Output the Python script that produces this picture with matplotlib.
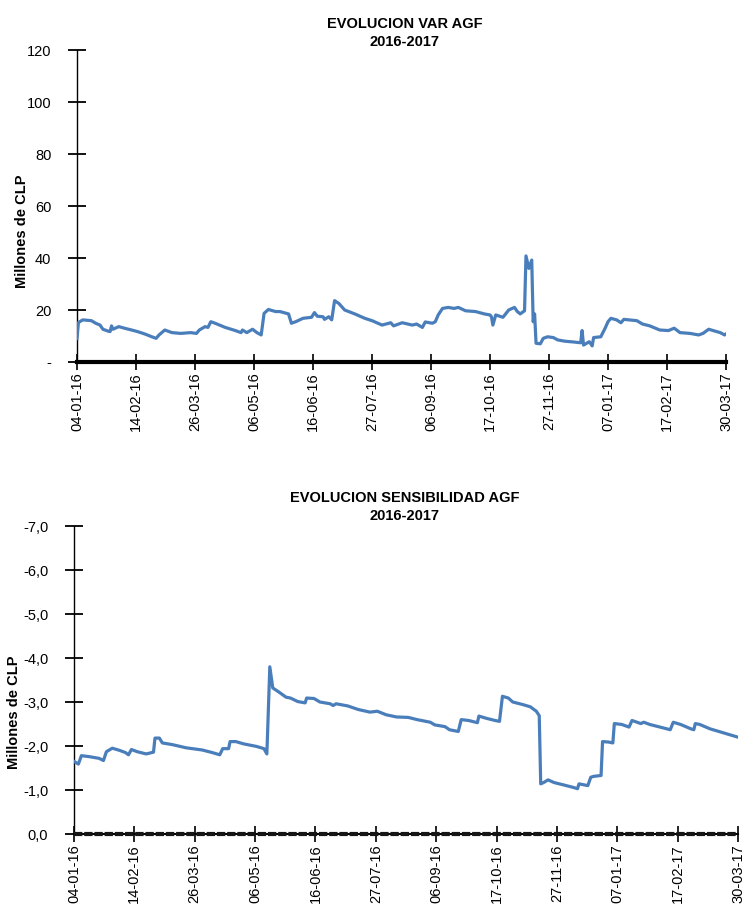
import matplotlib
matplotlib.use("Agg")
import matplotlib.pyplot as plt
import pandas as pd

# ---------------- data ----------------
etiquetas_x = ["04-01-16", "14-02-16", "26-03-16", "06-05-16", "16-06-16", "27-07-16",
               "06-09-16", "17-10-16", "27-11-16", "07-01-17", "17-02-17", "30-03-17"]

var_fechas = [
    "2016-01-04", "2016-01-05", "2016-01-08", "2016-01-14", "2016-01-17", "2016-01-20",
    "2016-01-22", "2016-01-26", "2016-01-27", "2016-01-28", "2016-01-29", "2016-02-02",
    "2016-02-06", "2016-02-11", "2016-02-15", "2016-02-20", "2016-02-25", "2016-02-28",
    "2016-03-01", "2016-03-05", "2016-03-10", "2016-03-16", "2016-03-23", "2016-03-27",
    "2016-03-29", "2016-04-02", "2016-04-04", "2016-04-06", "2016-04-09", "2016-04-16",
    "2016-04-23", "2016-04-27", "2016-04-28", "2016-05-01", "2016-05-05", "2016-05-08",
    "2016-05-11", "2016-05-13", "2016-05-16", "2016-05-21", "2016-05-24", "2016-05-30",
    "2016-06-01", "2016-06-04", "2016-06-09", "2016-06-15", "2016-06-17", "2016-06-19",
    "2016-06-23", "2016-06-24", "2016-06-27", "2016-06-29", "2016-07-01", "2016-07-04",
    "2016-07-08", "2016-07-15", "2016-07-22", "2016-07-27", "2016-08-03", "2016-08-09",
    "2016-08-11", "2016-08-17", "2016-08-24", "2016-08-27", "2016-08-31", "2016-09-02",
    "2016-09-07", "2016-09-09", "2016-09-11", "2016-09-14", "2016-09-18", "2016-09-22",
    "2016-09-25", "2016-09-30", "2016-10-07", "2016-10-13", "2016-10-17", "2016-10-18",
    "2016-10-19", "2016-10-21", "2016-10-26", "2016-10-30", "2016-11-03", "2016-11-05",
    "2016-11-07", "2016-11-10", "2016-11-11", "2016-11-13", "2016-11-15", "2016-11-16",
    "2016-11-17", "2016-11-18", "2016-11-21", "2016-11-23", "2016-11-26", "2016-11-30",
    "2016-12-03", "2016-12-08", "2016-12-14", "2016-12-19", "2016-12-20", "2016-12-21",
    "2016-12-25", "2016-12-27", "2016-12-28", "2017-01-02", "2017-01-05", "2017-01-07",
    "2017-01-09", "2017-01-13", "2017-01-16", "2017-01-18", "2017-01-27", "2017-01-31",
    "2017-02-05", "2017-02-12", "2017-02-18", "2017-02-22", "2017-02-26", "2017-03-05",
    "2017-03-11", "2017-03-14", "2017-03-18", "2017-03-21", "2017-03-26", "2017-03-29",
    "2017-03-30",
]
var_valores = [
    9.0, 15.2, 16.2, 15.9, 14.9, 14.2,
    12.6, 11.8, 11.7, 13.9, 12.6, 13.6,
    13.0, 12.3, 11.7, 10.8, 9.7, 9.1,
    10.4, 12.3, 11.3, 11.0, 11.3, 11.0,
    12.3, 13.6, 13.3, 15.5, 14.9, 13.3,
    12.1, 11.3, 12.3, 11.3, 12.6, 11.3,
    10.4, 18.7, 20.2, 19.4, 19.4, 18.5,
    14.9, 15.5, 16.8, 17.2, 19.0, 17.6,
    17.4, 16.4, 17.4, 16.2, 23.6, 22.5,
    20.0, 18.5, 16.8, 15.9, 14.2, 15.1,
    13.9, 15.1, 14.2, 14.6, 13.3, 15.4,
    14.9, 15.5, 18.1, 20.6, 21.0, 20.6,
    21.0, 19.7, 19.4, 18.5, 18.1, 17.4,
    14.2, 18.1, 17.2, 20.0, 21.0, 19.4,
    18.5, 19.7, 40.8, 36.0, 39.2, 15.5,
    18.5, 7.2, 7.0, 9.1, 9.7, 9.4,
    8.5, 8.0, 7.7, 7.4, 12.1, 6.5,
    7.8, 6.2, 9.4, 9.7, 13.0, 15.5,
    16.8, 16.2, 15.1, 16.4, 15.9, 14.6,
    13.9, 12.3, 12.1, 13.0, 11.3, 11.0,
    10.4, 11.0, 12.6, 12.1, 11.3, 10.4,
    10.8,
]

sens_fechas = [
    "2016-01-04", "2016-01-05", "2016-01-07", "2016-01-09", "2016-01-14", "2016-01-21",
    "2016-01-24", "2016-01-26", "2016-01-30", "2016-02-04", "2016-02-08", "2016-02-10",
    "2016-02-12", "2016-02-16", "2016-02-22", "2016-02-27", "2016-02-28", "2016-03-02",
    "2016-03-04", "2016-03-11", "2016-03-20", "2016-03-31", "2016-04-07", "2016-04-12",
    "2016-04-14", "2016-04-18", "2016-04-19", "2016-04-23", "2016-04-28", "2016-05-07",
    "2016-05-12", "2016-05-14", "2016-05-16", "2016-05-18", "2016-05-22", "2016-05-27",
    "2016-05-30", "2016-06-04", "2016-06-09", "2016-06-10", "2016-06-15", "2016-06-19",
    "2016-06-26", "2016-06-28", "2016-06-30", "2016-07-08", "2016-07-15", "2016-07-23",
    "2016-07-28", "2016-08-03", "2016-08-10", "2016-08-18", "2016-08-24", "2016-09-02",
    "2016-09-05", "2016-09-12", "2016-09-15", "2016-09-21", "2016-09-23", "2016-09-28",
    "2016-10-04", "2016-10-05", "2016-10-10", "2016-10-16", "2016-10-19", "2016-10-21",
    "2016-10-25", "2016-10-28", "2016-11-04", "2016-11-09", "2016-11-13", "2016-11-15",
    "2016-11-16", "2016-11-18", "2016-11-21", "2016-11-25", "2016-12-01", "2016-12-08",
    "2016-12-11", "2016-12-12", "2016-12-18", "2016-12-20", "2016-12-22", "2016-12-27",
    "2016-12-28", "2017-01-01", "2017-01-04", "2017-01-05", "2017-01-10", "2017-01-15",
    "2017-01-17", "2017-01-23", "2017-01-25", "2017-01-29", "2017-02-05", "2017-02-12",
    "2017-02-14", "2017-02-19", "2017-02-26", "2017-02-28", "2017-03-01", "2017-03-04",
    "2017-03-11", "2017-03-18", "2017-03-25", "2017-03-30",
]
sens_valores = [
    -1.65, -1.63, -1.59, -1.78, -1.76, -1.72,
    -1.67, -1.87, -1.95, -1.90, -1.85, -1.80,
    -1.92, -1.87, -1.82, -1.86, -2.18, -2.18,
    -2.07, -2.03, -1.96, -1.91, -1.85, -1.80,
    -1.94, -1.94, -2.10, -2.10, -2.05, -1.99,
    -1.94, -1.82, -3.80, -3.32, -3.23, -3.11,
    -3.09, -3.01, -2.98, -3.09, -3.08, -3.00,
    -2.96, -2.92, -2.96, -2.91, -2.83, -2.77,
    -2.79, -2.71, -2.66, -2.65, -2.60, -2.54,
    -2.48, -2.44, -2.37, -2.33, -2.60, -2.58,
    -2.53, -2.68, -2.63, -2.58, -2.56, -3.13,
    -3.09, -3.00, -2.94, -2.89, -2.79, -2.69,
    -1.14, -1.17, -1.23, -1.17, -1.12, -1.06,
    -1.03, -1.14, -1.10, -1.29, -1.31, -1.33,
    -2.10, -2.09, -2.07, -2.51, -2.49, -2.43,
    -2.58, -2.51, -2.54, -2.49, -2.43, -2.37,
    -2.54, -2.49, -2.39, -2.37, -2.51, -2.49,
    -2.39, -2.32, -2.25, -2.20,
]

cero_fechas = ["2016-01-04", "2017-03-30"]
cero_valores = [0.0, 0.0]

var_yticks = [0, 20, 40, 60, 80, 100, 120]
var_ytick_labels = ["-", "20", "40", "60", "80", "100", "120"]
sens_yticks = [0, -1, -2, -3, -4, -5, -6, -7]
sens_ytick_labels = ["0,0", "-1,0", "-2,0", "-3,0", "-4,0", "-5,0", "-6,0", "-7,0"]

titulo_var = "EVOLUCION VAR AGF\n2016-2017"
titulo_sens = "EVOLUCION SENSIBILIDAD AGF\n2016-2017"
etiqueta_y = "Millones de CLP"

# ---------------- style ----------------
FONT = "Liberation Sans"
plt.rcParams["font.family"] = [FONT, "DejaVu Sans"]
AZUL = "#4a7ebb"

W, H = 746, 923
fig = plt.figure(figsize=(W / 100, H / 100), dpi=100)

ticks_x = pd.to_datetime(etiquetas_x, format="%d-%m-%y")
x0, x1 = ticks_x[0], ticks_x[-1]


def px_axes(l, r, t, b):
    return fig.add_axes([l / W, 1 - b / H, (r - l) / W, (b - t) / H])


def style_axes(ax, bottom_lw):
    for s in ("top", "right"):
        ax.spines[s].set_visible(False)
    ax.spines["left"].set_linewidth(1.0)
    ax.spines["bottom"].set_linewidth(bottom_lw)
    ax.set_xlim(x0, x1)
    ax.set_xticks(ticks_x)
    ax.set_xticklabels(etiquetas_x, rotation=90, fontsize=10.5)
    ax.tick_params(axis="x", direction="inout", length=11, width=1.2, pad=2)
    ax.tick_params(axis="y", direction="inout", length=13, width=1.3, pad=12,
                   labelsize=10.5)
    ax.patch.set_alpha(0)


# ---- top chart ----
ax1 = px_axes(77, 726, 50, 362)
ax1.plot(pd.to_datetime(var_fechas), var_valores, color=AZUL, lw=2.3,
         solid_joinstyle="round", zorder=3)
ax1.set_ylim(0, 120)
ax1.set_yticks(var_yticks)
ax1.set_yticklabels(var_ytick_labels)
style_axes(ax1, 3.0)

fig.text(405 / W, 1 - 33 / H, titulo_var, ha="center", va="center",
         fontsize=10.5, fontweight="bold", linespacing=1.45)
fig.text(22 / W, 1 - 231 / H, etiqueta_y, ha="center", va="center",
         rotation=90, fontsize=10.5, fontweight="bold")

# ---- bottom chart ----
ax2 = px_axes(74, 738, 526, 834)
ax2.plot(pd.to_datetime(sens_fechas), sens_valores, color=AZUL, lw=2.3,
         solid_joinstyle="round", zorder=3)
ax2.plot(pd.to_datetime(cero_fechas), cero_valores, color="#151515", lw=3.0,
         dashes=(2.0, 0.45), zorder=4, clip_on=False)
ax2.set_ylim(0, -7)
ax2.set_yticks(sens_yticks)
ax2.set_yticklabels(sens_ytick_labels)
style_axes(ax2, 1.5)

fig.text(405 / W, 1 - 507 / H, titulo_sens, ha="center", va="center",
         fontsize=10.5, fontweight="bold", linespacing=1.45)
fig.text(14 / W, 1 - 712 / H, etiqueta_y, ha="center", va="center",
         rotation=90, fontsize=10.5, fontweight="bold")

fig.savefig("out.png", dpi=100, facecolor="white")
